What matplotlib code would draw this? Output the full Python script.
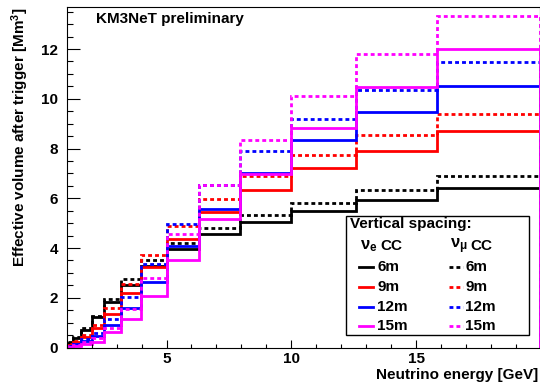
import numpy as np
import matplotlib
matplotlib.use('Agg')
import matplotlib.pyplot as plt
from matplotlib.lines import Line2D
from matplotlib.patches import Rectangle
from matplotlib.ticker import MultipleLocator

plt.rcParams['font.family'] = ['Liberation Sans', 'DejaVu Sans']
plt.rcParams['font.weight'] = 'bold'
plt.rcParams['mathtext.fontset'] = 'custom'
plt.rcParams['mathtext.rm'] = 'Liberation Sans'
plt.rcParams['mathtext.it'] = 'Liberation Sans'
plt.rcParams['mathtext.bf'] = 'Liberation Sans:bold'

# energy bin edges [GeV] (10 bins per decade)
edges = [1.0, 1.259, 1.585, 1.995, 2.512, 3.162, 3.981, 5.012, 6.310,
         7.943, 10.0, 12.589, 15.849, 19.953]

spacings = ['6m', '9m', '12m', '15m']
colors = ['black', '#ff0000', '#0000ff', '#ff00ff']

# nu_e CC effective volume [Mm^3]
nue_6m = [0.20, 0.38, 0.72, 1.22, 1.84, 2.53, 3.29, 3.98, 4.55, 5.04, 5.48, 5.92, 6.43]
nue_9m = [0.12, 0.22, 0.43, 0.80, 1.35, 2.20, 3.22, 4.37, 5.43, 6.35, 7.21, 7.92, 8.72]
nue_12m = [0.06, 0.13, 0.28, 0.45, 0.90, 1.60, 2.64, 4.09, 5.57, 7.01, 8.35, 9.45, 10.53]
nue_15m = [0.03, 0.07, 0.15, 0.22, 0.63, 1.14, 2.08, 3.51, 5.15, 6.97, 8.83, 10.46, 11.99]

# nu_mu CC effective volume [Mm^3]
numu_6m = [0.22, 0.42, 0.77, 1.27, 1.96, 2.75, 3.51, 4.22, 4.81, 5.32, 5.82, 6.33, 6.89]
numu_9m = [0.13, 0.25, 0.50, 0.92, 1.58, 2.54, 3.71, 4.90, 5.99, 6.89, 7.74, 8.53, 9.39]
numu_12m = [0.08, 0.16, 0.35, 0.60, 1.15, 2.03, 3.36, 4.95, 6.52, 7.92, 9.19, 10.35, 11.49]
numu_15m = [0.05, 0.10, 0.22, 0.38, 0.80, 1.55, 2.80, 4.55, 6.53, 8.36, 10.10, 11.80, 13.31]

nue = [nue_6m, nue_9m, nue_12m, nue_15m]
numu = [numu_6m, numu_9m, numu_12m, numu_15m]

dotted = (0, (1.4, 1.1))
lw = 2.0
fs = 11

fig = plt.figure(figsize=(5.4, 3.87), dpi=100)
ax = fig.add_axes([0.1235, 0.102, 0.8760, 0.880])

for i in range(4):
    ax.stairs(nue[i], edges, color=colors[i], lw=lw, baseline=0)
    ax.stairs(numu[i], edges, color=colors[i], lw=lw, ls=dotted, baseline=0)

ax.set_xlim(1, 19.953)
ax.set_ylim(0, 13.69)
ax.xaxis.set_major_locator(MultipleLocator(5))
ax.xaxis.set_minor_locator(MultipleLocator(1))
ax.yaxis.set_major_locator(MultipleLocator(2))
ax.yaxis.set_minor_locator(MultipleLocator(0.5))
ax.tick_params(axis='both', which='both', direction='in', labelsize=fs, width=0.8)
ax.tick_params(axis='y', which='major', length=9.5, pad=6)
ax.tick_params(axis='y', which='minor', length=4.5)
ax.tick_params(axis='x', which='major', length=6, pad=3)
ax.tick_params(axis='x', which='minor', length=3)
for lab in ax.get_xticklabels() + ax.get_yticklabels():
    lab.set_fontweight('bold')
for sp in ax.spines.values():
    sp.set_linewidth(0.8)

fig.text(20.7 / 540, 1 - 8 / 387, 'Effective volume after trigger [Mm$^{3}$]',
         rotation=90, ha='center', va='top', fontsize=fs, fontweight='bold')
fig.text(538 / 540, 1 - 375 / 387, 'Neutrino energy [GeV]',
         ha='right', va='center', fontsize=fs, fontweight='bold')
fig.text(96 / 540, 1 - 19 / 387, 'KM3NeT preliminary',
         ha='left', va='center', fontsize=fs, fontweight='bold')

# legend box
def fx(px):
    return px / 540

def fy(py):
    return 1 - py / 387

fig.add_artist(Rectangle((fx(345.7), fy(335)), fx(529) - fx(345.7), fy(215.7) - fy(335),
                         transform=fig.transFigure, facecolor='white',
                         edgecolor='black', lw=1.0, zorder=5))
fig.text(fx(350), fy(224), 'Vertical spacing:', ha='left', va='center',
         fontsize=fs, fontweight='bold', zorder=6)
fig.text(fx(360), fy(246), r'$\mathrm{\nu_{e}}$', ha='left', va='center',
         fontsize=12, zorder=6)
fig.text(fx(380), fy(245.7), 'CC', ha='left', va='center',
         fontsize=fs, fontweight='bold', zorder=6)
fig.text(fx(450), fy(246), r'$\mathrm{\nu_{\mu}}$', ha='left', va='center',
         fontsize=12, zorder=6)
fig.text(fx(470), fy(245.7), 'CC', ha='left', va='center',
         fontsize=fs, fontweight='bold', zorder=6)

rows_y = [266.7, 287.3, 307.3, 326]
for i in range(4):
    fig.add_artist(Line2D([fx(359), fx(373)], [fy(rows_y[i])] * 2, color=colors[i],
                          lw=lw, transform=fig.transFigure, zorder=6))
    fig.text(fx(377), fy(rows_y[i]), spacings[i], ha='left', va='center',
             fontsize=fs, fontweight='bold', zorder=6)
    fig.add_artist(Line2D([fx(449), fx(463)], [fy(rows_y[i])] * 2, color=colors[i],
                          lw=lw, ls=dotted, transform=fig.transFigure, zorder=6))
    fig.text(fx(465), fy(rows_y[i]), spacings[i], ha='left', va='center',
             fontsize=fs, fontweight='bold', zorder=6)

fig.savefig('out.png', dpi=100)
